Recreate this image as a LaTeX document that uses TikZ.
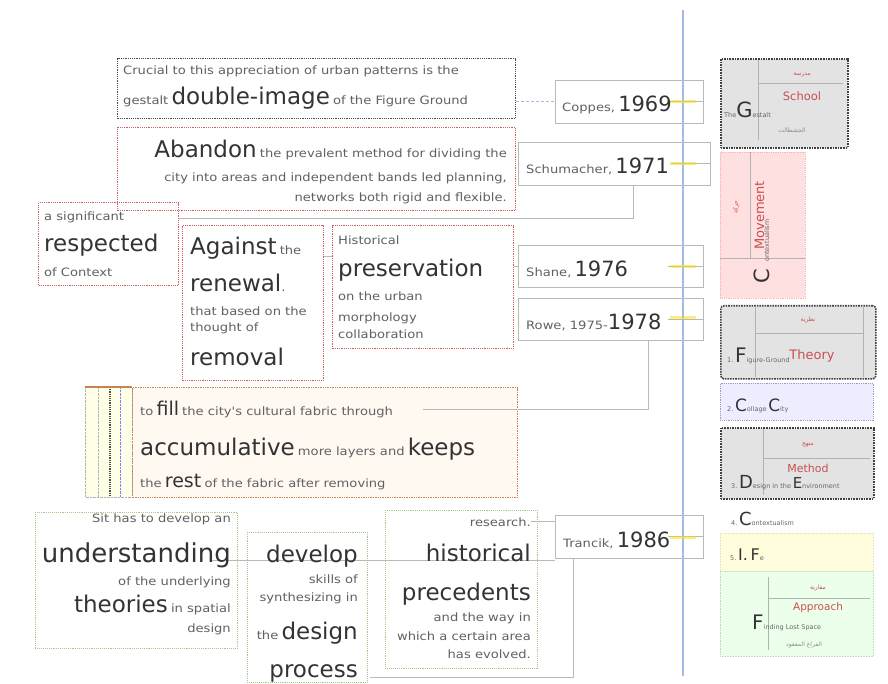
\documentclass[tikz,border=0pt]{standalone}
\usepackage{fontspec}
\usepackage{xcolor}
\usepackage{tikz}
\usetikzlibrary{calc}
\setmainfont{DejaVu Sans}
\newfontfamily\widefont[FakeStretch=1.14]{DejaVu Sans}
\newfontfamily\arabicfont[Script=Arabic]{DejaVu Sans}
\TeXXeTstate=1
\definecolor{tlblue}{RGB}{165,185,230}
\definecolor{boxred}{RGB}{205,95,95}
\definecolor{boxgreen}{RGB}{165,200,140}
\definecolor{boxorange}{RGB}{200,130,85}
\definecolor{labred}{RGB}{200,80,80}
\newcommand{\smtxt}[1]{{\widefont\fontsize{11.5}{14}\selectfont\color{black!62}#1}}
\newcommand{\bigtxt}[1]{{\fontsize{23}{26}\selectfont\color{black!80}#1}}
\newcommand{\midtxt}[1]{{\fontsize{19}{22}\selectfont\color{black!80}#1}}
\newcommand{\tinytxt}[1]{{\fontsize{6.5}{8}\selectfont\color{black!60}#1}}
\newcommand{\lettxt}[2]{{\fontsize{#1}{#1}\selectfont\color{black!80}#2}}
\newcommand{\redtxt}[2]{{\fontsize{#1}{#1}\selectfont\color{labred}#2}}
\newcommand{\artxt}[1]{{\arabicfont\fontsize{6}{7}\selectfont\beginR #1\endR}}

\begin{document}
\begin{tikzpicture}[x=1pt, y=-1pt,
    txtl/.style={anchor=base west, inner sep=0pt},
    txtr/.style={anchor=base east, inner sep=0pt},
    txtc/.style={anchor=center, inner sep=0pt},
    dotbox/.style={draw, rectangle, anchor=north west, inner sep=0pt, densely dotted, line width=1.2pt},
    redbox/.style={dotbox, draw=boxred},
    grnbox/.style={dotbox, draw=boxgreen, line width=.9pt},
    blkbox/.style={dotbox, draw=black!75, line width=1.6pt, fill=black!11},
    yearbox/.style={draw=gray!55, line width=.7pt, rectangle, anchor=north west, inner sep=0pt},
    link/.style={draw=gray!55, line width=.8pt},
    yearmark/.style={draw=yellow!80!orange, line width=3pt, opacity=.5},
    celline/.style={draw=gray!60, line width=.6pt}]
    \useasboundingbox (0,0) rectangle (888,684);
    \fill[white] (0,0) rectangle (888,684);

    % Text boxes
    \node[dotbox, draw=black!70, minimum width=398pt, minimum height=60pt] (crucial) at (117,58) {};
    \node[redbox, minimum width=398pt, minimum height=83pt] (abandon) at (117,127) {};
    \node[redbox, minimum width=140pt, minimum height=83pt] (respected) at (38,202) {};
    \node[redbox, minimum width=141pt, minimum height=155pt] (against) at (182,225) {};
    \node[redbox, minimum width=181pt, minimum height=123pt] (preserve) at (332,225) {};

    % Layered box with strips
    \fill[yellow!10] (85,387) rectangle (132,497);
    \draw[densely dotted, gray!60] (85,387) rectangle (132,497);
    \draw[densely dotted, gray!60] (98,387) -- (98,497);
    \draw[densely dotted, black!70, line width=1.2pt] (110,387) -- (110,497);
    \draw[densely dotted, blue!50] (120,387) -- (120,497);
    \node[dotbox, draw=boxorange, fill=orange!5, line width=1.4pt, minimum width=385pt, minimum height=110pt] (fillbox) at (132,387) {};
    \draw[boxorange, line width=1.5pt] (85,387) -- (132,387);

    \node[grnbox, minimum width=202pt, minimum height=136pt] (underst) at (35,512) {};
    \node[grnbox, minimum width=120pt, minimum height=150pt] (develop) at (247,532) {};
    \node[grnbox, minimum width=152pt, minimum height=158pt] (histor) at (385,510) {};

    % Year boxes
    \node[yearbox, minimum width=148pt, minimum height=43pt] (y1969) at (555,80) {};
    \node[yearbox, minimum width=192pt, minimum height=43pt] (y1971) at (518,142) {};
    \node[yearbox, minimum width=185pt, minimum height=42pt] (y1976) at (518,245) {};
    \node[yearbox, minimum width=185pt, minimum height=42pt] (y1978) at (518,298) {};
    \node[yearbox, minimum width=148pt, minimum height=43pt] (y1986) at (555,515) {};

    % Right column
    \node[blkbox, minimum width=127pt, minimum height=89pt] (gestalt) at (720,58) {};
    \draw[celline] (758,60) -- (758,140);
    \draw[celline] (758,83) -- (843,83);
    \node[dotbox, draw=red!30, fill=red!12, line width=.8pt, minimum width=85pt, minimum height=146pt] (context) at (720,152) {};
    \draw[celline] (720,258) -- (805,258);
    \draw[celline] (750,152) -- (750,258);
    \node[blkbox, rounded corners=3pt, minimum width=155pt, minimum height=73pt] (formth) at (720,305) {};
    \draw[celline] (755,306) -- (755,377);
    \draw[celline] (755,333) -- (863,333);
    \draw[celline] (863,306) -- (863,377);
    \node[dotbox, draw=blue!30!gray!60, fill=blue!7, line width=.8pt, minimum width=153pt, minimum height=37pt] (collage) at (720,383) {};
    \node[blkbox, minimum width=153pt, minimum height=71pt] (method) at (720,427) {};
    \draw[celline] (763,429) -- (763,495);
    \draw[celline] (763,458) -- (870,458);
    \node[dotbox, draw=yellow!40!gray!40, fill=yellow!14, line width=.6pt, minimum width=153pt, minimum height=38pt] (ifbox) at (720,533) {};
    \node[dotbox, draw=green!30!gray!40, fill=green!8, line width=.6pt, minimum width=153pt, minimum height=85pt] (approach) at (720,571) {};
    \draw[celline] (768,577) -- (768,650);
    \draw[celline] (768,598) -- (870,598);

    % Timeline
    \draw[tlblue, line width=2pt] (683,10) -- (683,676);

    % Ticks on the timeline
    \draw[link] (y1969.east) -- +(-36,0);
    \draw[link] (y1971.east) -- +(-40,0);
    \draw[link] (y1976.east) -- +(-36,0);
    \draw[link] (y1978.east) -- +(-36,0);
    \draw[link] (y1986.east) -- +(-36,0);
    \draw[yearmark] (670,102) -- (696,102);
    \draw[yearmark] (670,164) -- (696,164);
    \draw[yearmark] (670,267) -- (696,267);
    \draw[yearmark] (670,318) -- (696,318);
    \draw[yearmark] (670,537) -- (696,537);

    % Connectors
    \coordinate (k1971) at (633,218);
    \coordinate (kap) at (328,256);
    \coordinate (k1978) at (648,409);
    \coordinate (kfill) at (423,409);
    \coordinate (kund) at (212,560);
    \coordinate (k1986) at (573,677);
    \coordinate (kbot) at (370,677);
    \draw[link, draw=tlblue, densely dashed, line width=1pt] (crucial.east |- y1969.west) -- (y1969.west);
    \draw[link] (y1971.south -| k1971) -- (k1971) -- (respected.east |- k1971);
    \draw[link] (against.east |- kap) -- (preserve.west |- kap);
    \draw[link] (preserve.east |- y1976.west) -- (y1976.west);
    \draw[link] (y1978.south -| k1978) -- (k1978) -- (kfill);
    \draw[link] (kund) -- (kund -| y1986.west);
    \draw[link] (y1986.south -| k1986) -- (k1986) -- (kbot);

    % Texts of the boxes
    \node[txtl] (crucialA) at (123,75) {\smtxt{Crucial to this appreciation of urban patterns is the}};
    \node[txtl] (crucialB) at (123,105) {\smtxt{gestalt} \bigtxt{double-image} \smtxt{of the Figure Ground}};

    \node[txtr] (abandonA) at (507,158) {\bigtxt{Abandon} \smtxt{the prevalent method for dividing the}};
    \node[txtr] (abandonB) at (507,182) {\smtxt{city into areas and independent bands led planning,}};
    \node[txtr] (abandonC) at (507,202) {\smtxt{networks both rigid and flexible.}};

    \node[txtl] (respA) at (44,221) {\smtxt{a significant}};
    \node[txtl] (respB) at (44,252) {\bigtxt{respected}};
    \node[txtl] (respC) at (44,277) {\smtxt{of Context}};

    \node[txtl] (againstA) at (190,255) {\bigtxt{Against} \smtxt{the}};
    \node[txtl] (againstB) at (190,292) {\bigtxt{renewal}\smtxt{.}};
    \node[txtl] (againstC) at (190,316) {\smtxt{that based on the}};
    \node[txtl] (againstD) at (190,331) {\smtxt{thought of}};
    \node[txtl] (againstE) at (190,365) {\bigtxt{removal}};

    \node[txtl] (presA) at (338,245) {\smtxt{Historical}};
    \node[txtl] (presB) at (338,277) {\bigtxt{preservation}};
    \node[txtl] (presC) at (338,301) {\smtxt{on the urban}};
    \node[txtl] (presD) at (338,321) {\smtxt{morphology}};
    \node[txtl] (presE) at (338,338) {\smtxt{collaboration}};

    \node[txtl] (fillA) at (140,415) {\smtxt{to} \midtxt{fill} \smtxt{the city's cultural fabric through}};
    \node[txtl] (fillB) at (140,455) {\bigtxt{accumulative} \smtxt{more layers and} \bigtxt{keeps}};
    \node[txtl] (fillC) at (140,487) {\smtxt{the} \midtxt{rest} \smtxt{of the fabric after removing}};

    \node[txtr] (underA) at (231,522) {\smtxt{Sit has to develop an}};
    \node[txtr] (underB) at (231,562) {\lettxt{26}{understanding}};
    \node[txtr] (underC) at (231,585) {\smtxt{of the underlying}};
    \node[txtr] (underD) at (231,612) {\bigtxt{theories} \smtxt{in spatial}};
    \node[txtr] (underE) at (231,632) {\smtxt{design}};

    \node[txtr] (devA) at (358,562) {\bigtxt{develop}};
    \node[txtr] (devB) at (358,583) {\smtxt{skills of}};
    \node[txtr] (devC) at (358,601) {\smtxt{synthesizing in}};
    \node[txtr] (devD) at (358,639) {\smtxt{the} \bigtxt{design}};
    \node[txtr] (devE) at (358,677) {\bigtxt{process}};

    \node[txtr] (histA) at (531,526) {\smtxt{research.}};
    \node[txtr] (histB) at (531,561) {\bigtxt{historical}};
    \node[txtr] (histC) at (531,600) {\bigtxt{precedents}};
    \node[txtr] (histD) at (531,621) {\smtxt{and the way in}};
    \node[txtr] (histE) at (531,640) {\smtxt{which a certain area}};
    \node[txtr] (histF) at (531,658) {\smtxt{has evolved.}};
    \draw[link] (histA.east) -- (y1986.west |- histA.east);

    % Years
    \node[txtl] (t1969) at (562,112) {\smtxt{Coppes,} \lettxt{21}{1969}};
    \node[txtl] (t1971) at (526,174) {\smtxt{Schumacher,} \lettxt{21}{1971}};
    \node[txtl] (t1976) at (526,277) {\smtxt{Shane,} \lettxt{21}{1976}};
    \node[txtl] (t1978) at (526,330) {\smtxt{Rowe, 1975-}\lettxt{21}{1978}};
    \node[txtl] (t1986) at (563,547) {\smtxt{Trancik,} \lettxt{21}{1986}};

    % Right column texts
    \node[txtc] (gestaltAr) at (802,75) {\color{labred}\artxt{مدرسة}};
    \node[txtc] (gestaltSch) at (802,96) {\redtxt{11.5}{School}};
    \node[txtl] (gestaltG) at (724,118) {\tinytxt{The}\lettxt{21}{G}\tinytxt{estalt}};
    \node[txtc] (gestaltAr2) at (792,131) {\color{black!45}\artxt{الجشطالت}};

    \node[txtc, rotate=90] (contextAr) at (736,207) {\color{labred}\artxt{حركة}};
    \node[txtl, rotate=90] (contextMov) at (764,250) {\redtxt{13}{Movement}};
    \node[txtl, rotate=90] (contextC) at (769,284) {\lettxt{21}{C}};
    \node[txtl, rotate=90] (contextSm) at (769,262) {\tinytxt{ontextualism}};

    \node[txtc] (formAr) at (808,320) {\color{labred}\artxt{نظرية}};
    \node[txtl] (formF) at (727,362) {\tinytxt{1.}\,\lettxt{20}{F}\tinytxt{igure-Ground}};
    \node[txtc] (formTh) at (812,356) {\redtxt{13}{Theory}};

    \node[txtl] (collageC) at (727,411) {\tinytxt{2.}\,\lettxt{17}{C}\tinytxt{ollage}\,\lettxt{17}{C}\tinytxt{ity}};

    \node[txtc] (methodAr) at (808,445) {\color{labred}\artxt{منهج}};
    \node[txtc] (methodM) at (808,468) {\redtxt{11}{Method}};
    \node[txtl] (methodD) at (731,488) {\tinytxt{3.}\,\lettxt{18}{D}\tinytxt{esign in the}\,\lettxt{15}{E}\tinytxt{nvironment}};

    \node[txtl] (contextB) at (731,525) {\tinytxt{4.}\,\lettxt{18}{C}\tinytxt{ontextualism}};

    \node[txtl] (ifA) at (730,560) {\tinytxt{5.}\,\lettxt{16}{I.\,F}\tinytxt{e}};

    \node[txtc] (apprAr) at (818,588) {\color{labred}\artxt{مقاربة}};
    \node[txtc] (apprA) at (818,608) {\redtxt{10.5}{Approach}};
    \node[txtl] (apprF) at (752,629) {\lettxt{20}{F}\tinytxt{inding Lost Space}};
    \node[txtc] (apprAr2) at (804,645) {\color{black!45}\artxt{الفراغ المفقود}};
\end{tikzpicture}
\end{document}
